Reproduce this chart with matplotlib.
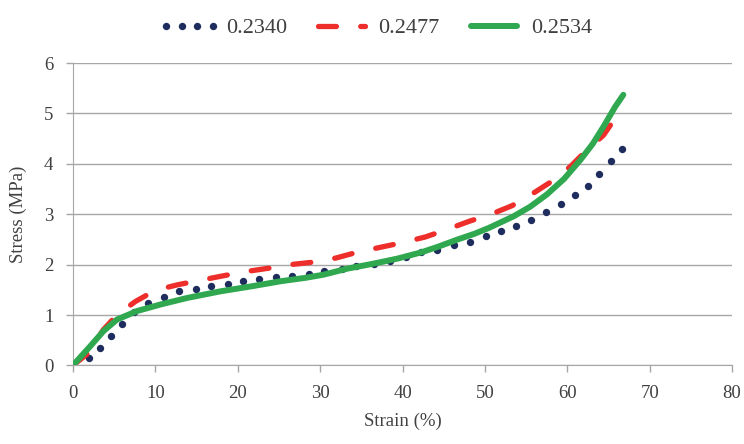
import matplotlib
matplotlib.use("Agg")
from matplotlib import pyplot as plt

# strain (%) / stress (MPa)
strain_2340 = [1.9, 3.3, 4.6, 6.0, 7.4, 9.1, 11.0, 12.9, 14.9, 16.8, 18.8, 20.7,
               22.6, 24.7, 26.6, 28.6, 30.5, 32.6, 34.4, 36.5, 38.5, 40.4, 42.3,
               44.2, 46.2, 48.2, 50.1, 52.0, 53.8, 55.6, 57.4, 59.2, 60.9, 62.5,
               63.9, 65.3, 66.6]
stress_2340 = [0.15, 0.35, 0.58, 0.83, 1.06, 1.24, 1.35, 1.47, 1.52, 1.57, 1.62,
               1.67, 1.72, 1.75, 1.78, 1.82, 1.87, 1.92, 1.97, 2.01, 2.08, 2.16,
               2.25, 2.30, 2.38, 2.45, 2.56, 2.66, 2.77, 2.89, 3.04, 3.20, 3.38,
               3.57, 3.79, 4.05, 4.30]

strain_2477 = [0, 1.7, 3.7, 5.4, 7.6, 10.0, 12.7, 15.5, 18.3, 20.9, 23.8, 26.4, 29.2,
               31.9, 34.6, 37.5, 40.1, 42.8, 45.6, 48.1, 50.9, 53.3, 55.9, 57.9,
               60.4, 61.8, 64.4, 66.0]
stress_2477 = [0, 0.22, 0.71, 1.01, 1.27, 1.49, 1.60, 1.69, 1.78, 1.86, 1.93, 2.00,
               2.05, 2.13, 2.25, 2.35, 2.44, 2.55, 2.71, 2.86, 3.01, 3.17, 3.42,
               3.63, 3.95, 4.18, 4.57, 4.95]

strain_2534 = [0, 2.1, 3.7, 5.35, 7.8, 10.65, 13.9, 17.9, 21.7, 25.2, 28.3, 30.4,
               33.3, 36.5, 39.4, 42.2, 44.4, 46.7, 48.7, 50.5, 53.5, 55.5, 57.5,
               59.6, 61.6, 63.1, 64.4, 65.8, 66.8]
stress_2534 = [0, 0.38, 0.68, 0.91, 1.08, 1.21, 1.34, 1.47, 1.57, 1.67, 1.74, 1.80,
               1.92, 2.02, 2.12, 2.24, 2.36, 2.50, 2.61, 2.73, 2.96, 3.15, 3.39,
               3.70, 4.08, 4.40, 4.74, 5.13, 5.37]

labels = ["0.2340", "0.2477", "0.2534"]

plt.rcParams["font.family"] = ["Liberation Serif", "DejaVu Serif"]
text_color = "#404040"
grid_color = "#a6a6a6"

fig = plt.figure(figsize=(7.44, 4.44), dpi=100)
ax = fig.add_axes([0.098, 0.177, 0.886, 0.681])

# round dots of the dotted series
ax.plot(strain_2340, stress_2340, color="#1f2d5e", linestyle="none",
        marker="o", markersize=5.3, markeredgewidth=0, label=labels[0], zorder=3)
ax.plot(strain_2477, stress_2477, color="#ee2e2b", lw=3.8,
        linestyle=(0, (3.4, 4.6)), dash_capstyle="round", label=labels[1], zorder=3)
ax.plot(strain_2534, stress_2534, color="#2fa84f", lw=4.3,
        solid_capstyle="round", label=labels[2], zorder=4)

ax.set_xlim(0, 80)
ax.set_ylim(0, 6)
ax.set_xticks(range(0, 81, 10))
ax.set_yticks(range(0, 7))
ax.grid(axis="y", color=grid_color, lw=1)
ax.set_axisbelow(True)

for side in ["top", "right"]:
    ax.spines[side].set_visible(False)
for side in ["left", "bottom"]:
    ax.spines[side].set_color(grid_color)

ax.tick_params(axis="both", colors=grid_color, labelcolor=text_color,
               labelsize=13.5, length=5, width=1)
ax.tick_params(axis="x", pad=9)
ax.tick_params(axis="y", pad=9)

ax.set_xlabel("Strain (%)", fontsize=13.5, color=text_color, labelpad=8)
ax.set_ylabel("Stress (MPa)", fontsize=13.5, color=text_color, labelpad=12)

fig.legend(loc="upper center", bbox_to_anchor=(0.505, 1.005), ncol=3,
           frameon=False, fontsize=16, handlelength=2.7, handletextpad=0.3,
           columnspacing=1.1, labelcolor=text_color, numpoints=4)

fig.savefig("out.png", dpi=100)
